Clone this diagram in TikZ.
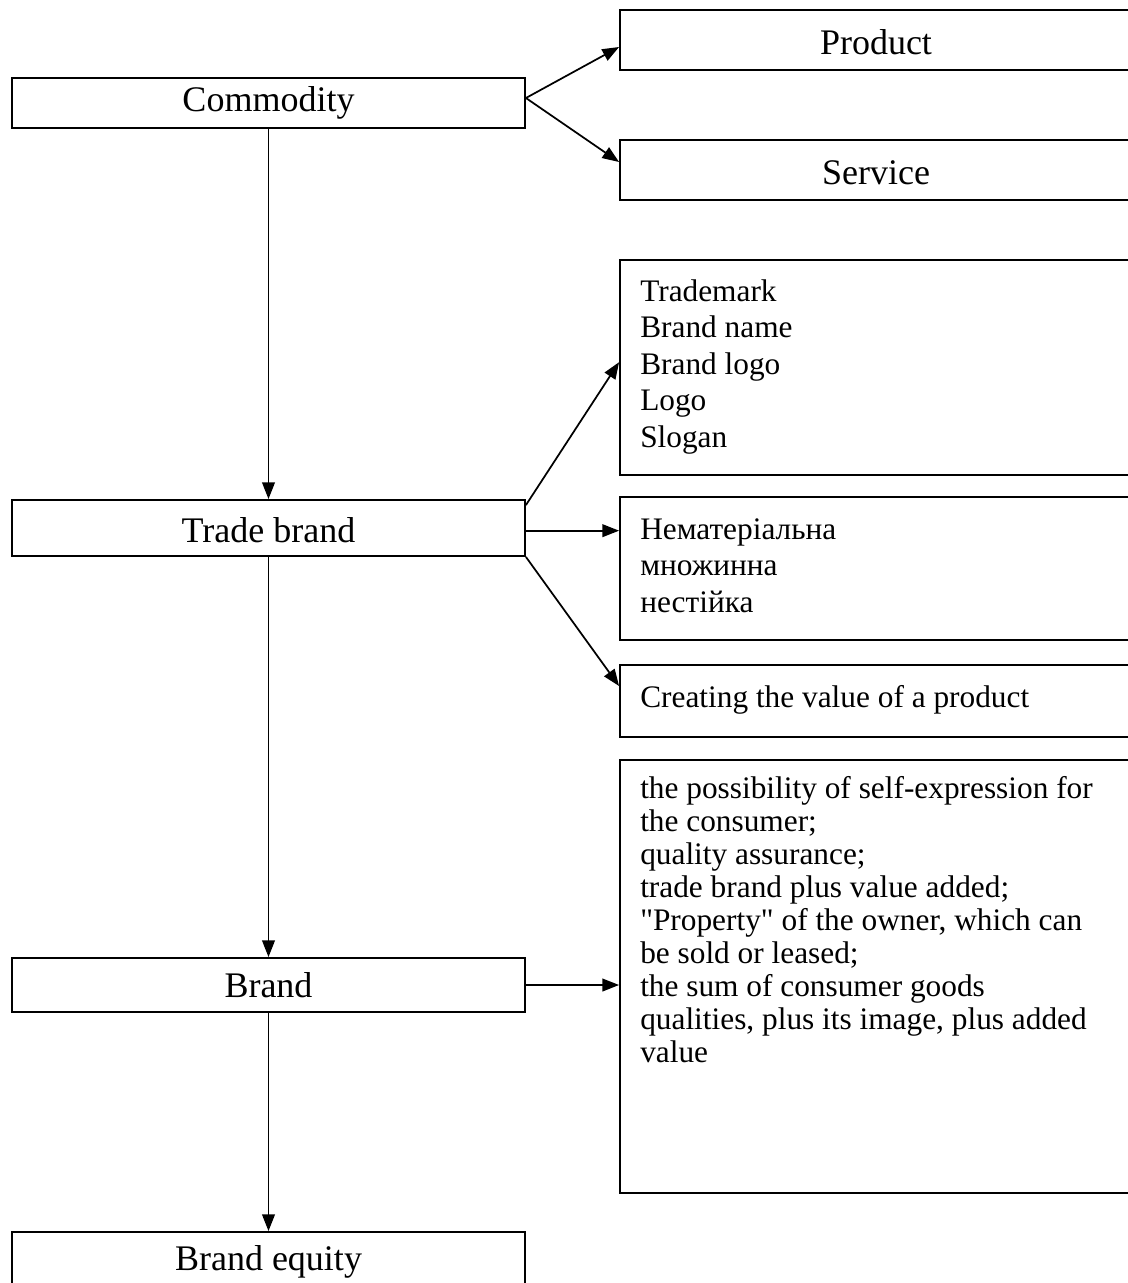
\documentclass[tikz,border=0pt]{standalone}
\usepackage{fontspec}
\setmainfont{Liberation Serif}[Ligatures=TeXOff]
\usetikzlibrary{arrows.meta}
\begin{document}
\begin{tikzpicture}[x=0.75pt,y=-0.75pt,
  box/.style={draw, line width=1.4pt, rectangle, inner sep=0pt},
  lbox/.style={box, minimum width=384.75pt, font=\fontsize{27}{32}\selectfont},
  rbox/.style={box, minimum width=384pt, font=\fontsize{27}{32}\selectfont},
  low/.style={text height=21pt, text depth=0pt},
  txt/.style={inner sep=0pt, align=left, font=\fontsize{23.5}{27.4}\selectfont},
  conn/.style={line width=1.3pt, -{Triangle[length=12.5pt,width=9.5pt]}}]
\useasboundingbox (0,0) rectangle (1128,1283);
\clip (0,0) rectangle (1128,1283);
\fill[white] (0,0) rectangle (1128,1283);

% left column
\node[lbox, minimum height=37.5pt] (comm)   at (268.5,103)  {Commodity};
\node[lbox, low, minimum height=42pt] (tb)  at (268.5,528)  {Trade brand};
\node[lbox, minimum height=40.5pt] (brand)  at (268.5,985)  {Brand};
\node[lbox, minimum height=45pt]   (equity) at (268.5,1262) {Brand equity};

% right column
\node[rbox, low, minimum height=45pt] (prod) at (876,40)     {Product};
\node[rbox, low, minimum height=45pt] (serv) at (876,170)    {Service};
\node[rbox, minimum height=161.25pt] (marks)  at (876,367.5) {};
\node[rbox, minimum height=107.25pt] (traits) at (876,568.5) {};
\node[rbox, minimum height=54pt]     (valbox) at (876,701)   {};
\node[rbox, minimum height=324.75pt] (roles)  at (876,976.5) {};

% texts of the right boxes
\node[txt, anchor=north west] (markstxt) at (640,279)
  {Trademark\\Brand name\\Brand logo\\Logo\\Slogan};
\node[txt, anchor=north west] (traitstxt) at (640,518)
  {Нематеріальна\\множинна\\нестійка};
\node[txt, anchor=west] (valtxt) at (640,700)
  {Creating the value of a product};
\node[txt, anchor=north west, font=\fontsize{23.5}{24.75}\selectfont] (rolestxt) at (640,776.5)
  {the possibility of self-expression for\\the consumer;\\quality assurance;\\trade brand plus value added;\\"Property" of the owner, which can\\be sold or leased;\\the sum of consumer goods\\qualities, plus its image, plus added\\value};

% connectors
\draw[conn] ([yshift=3.75pt]comm.east) -- ([yshift=-5.25pt]prod.west);
\draw[conn] ([yshift=3.75pt]comm.east) -- ([yshift=6pt]serv.west);
\draw[conn] (comm.south) -- (tb.north);
\draw[conn] ([yshift=-4.5pt]tb.north east) -- ([yshift=4pt]marks.west);
\draw[conn] ([yshift=-2pt]tb.east) -- ([yshift=-2pt]tb.east -| traits.west);
\draw[conn] (tb.south east) -- ([yshift=11.25pt]valbox.west);
\draw[conn] (tb.south) -- (brand.north);
\draw[conn] (brand.east) -- (brand.east -| roles.west);
\draw[conn] (brand.south) -- (equity.north);
\end{tikzpicture}
\end{document}
